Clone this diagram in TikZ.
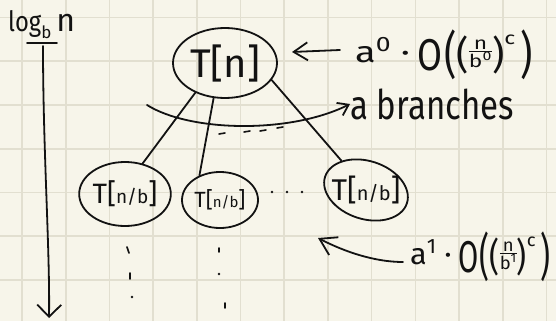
\RequirePackage{fix-cm}
\documentclass[tikz,border=0pt]{standalone}
\usepackage{fontspec}
\setmainfont{Fira Sans}
\setsansfont{Fira Sans}
\usetikzlibrary{arrows.meta,shapes.geometric}
\definecolor{paper}{HTML}{F7F5EA}
\definecolor{gridc}{HTML}{E2DFD0}
\definecolor{ink}{HTML}{121212}
\tikzset{
  inkline/.style={draw=ink, line width=1.8pt, line cap=round, line join=round},
  bubble/.style={ellipse, draw=ink, line width=1.8pt, inner sep=0pt, text=ink},
  gridline/.style={draw=gridc, line width=1.6pt},
  txt/.style={text=ink, inner sep=0pt}
}
\newcommand{\vc}[1]{$\vcenter{\hbox{#1}}$}
\newcommand{\costterm}[1]{a\textsuperscript{#1}\hspace{0.25em}·\hspace{0.2em}\vc{\scalebox{0.95}[1.5]{O}}\hspace{0.05em}\vc{\scalebox{1}[1.7]{(}}\vc{\scalebox{1}[1.3]{(}}\vc{\fontsize{18}{18}\selectfont\setlength{\arrayrulewidth}{1.2pt}\begin{tabular}{@{}c@{}}n\\[-4pt]\hline\rule{0pt}{14pt}b\textsuperscript{#1}\end{tabular}}\vc{\scalebox{1}[1.3]{)}}\raisebox{0.6em}{\fontsize{18}{18}\selectfont c}\hspace{0.15em}\vc{\scalebox{1}[1.7]{)}}}
\begin{document}
\begin{tikzpicture}[x=1pt,y=-1pt]
\fill[paper] (0,0) rectangle (556,321);
\useasboundingbox (0,0) rectangle (556,321);
\foreach \i in {0,...,12} \draw[gridline] ({22+43.7*\i},0) -- ({22+43.7*\i},321);
\foreach \j in {0,...,6} \draw[gridline] (0,{17.5+43.75*\j}) -- (556,{17.5+43.75*\j});

% axis label and axis
\node[txt, anchor=base west, font=\fontsize{28}{30}\selectfont] (lg) at (8,32)
  {\scalebox{0.85}[1]{log}\raisebox{-7pt}{\fontsize{17}{18}\selectfont b}\hspace{5pt}{\fontsize{32}{34}\selectfont n}};
\coordinate (u0) at (27,43);
\coordinate (u1) at (57,43);
\draw[inkline] (u0) -- (u1);
\coordinate (a0) at (43,46);
\coordinate (a1) at (49,318);
\draw[inkline, -{Straight Barb[length=12pt,width=24pt]}] (a0) .. controls (43,150) and (50,250) .. (a1);

% tree nodes
\node[bubble, minimum width=104pt, minimum height=70pt, font=\fontsize{40}{42}\selectfont] (root) at (225,63) {T[n]};
\node[bubble, minimum width=86pt, minimum height=64pt, font=\fontsize{28}{30}\selectfont] (c1) at (125,194)
  {T[{\fontsize{19}{20}\selectfont n/b}]};
\node[bubble, minimum width=76pt, minimum height=56pt, font=\fontsize{22}{24}\selectfont] (c2) at (220,200)
  {T[{\fontsize{15}{16}\selectfont n/b}]};
\node[bubble, rotate=-18, minimum width=86pt, minimum height=58pt] (c3) at (366,190) {};
\node[txt, font=\fontsize{30}{32}\selectfont] (c3t) at (366,190) {T[{\fontsize{20}{22}\selectfont n/b}]};

\draw[inkline] (root.225) -- (c1.60);
\draw[inkline] (root.252) -- (c2.130);
\draw[inkline] (root.340) -- (c3.148);

% branches arrow
\coordinate (bs) at (147,105);
\node[txt, anchor=west, font=\fontsize{34}{36}\selectfont] (br) at (350,104) {\scalebox{0.97}[1.2]{a branches}};
\draw[inkline, -{Straight Barb[length=10pt,width=14pt]}] (bs) .. controls (190,132) and (290,134) .. (br.west);
\foreach \x/\y in {222/134, 247/132, 263/131, 280/128}
  \draw[inkline, line width=1.6pt] (\x-3,\y) -- (\x+3,\y-1);

% dots
\foreach \x in {272,287,302} \fill[ink] (\x,192) circle (1.4pt);
\draw[inkline, line width=1.6pt] (127,247) -- (129,253);
\draw[inkline, line width=1.6pt] (130,273) -- (130,279);
\fill[ink] (132,297) circle (1.3pt);
\draw[inkline, line width=1.6pt] (219,248) -- (219,252);
\fill[ink] (219,274) circle (1.3pt);
\draw[inkline, line width=1.6pt] (225,303) -- (225,308);

% cost formulas
\node[txt, anchor=west, font=\fontsize{30}{34}\selectfont] (f0) at (355,55) {\resizebox*{178pt}{50pt}{\costterm{0}}};
\coordinate (t0) at (292,52);
\draw[inkline, -{Straight Barb[length=14pt,width=18pt]}] ([shift={(-15,-5)}]f0.west) -- (t0);

\node[txt, anchor=west, font=\fontsize{30}{34}\selectfont] (f1) at (410,257) {\resizebox*{140pt}{50pt}{\costterm{1}}};
\coordinate (t1) at (318,238);
\draw[inkline, -{Straight Barb[length=16pt,width=20pt]}] ([shift={(-7,5)}]f1.west) .. controls (375,262) and (345,252) .. (t1);
\end{tikzpicture}
\end{document}
